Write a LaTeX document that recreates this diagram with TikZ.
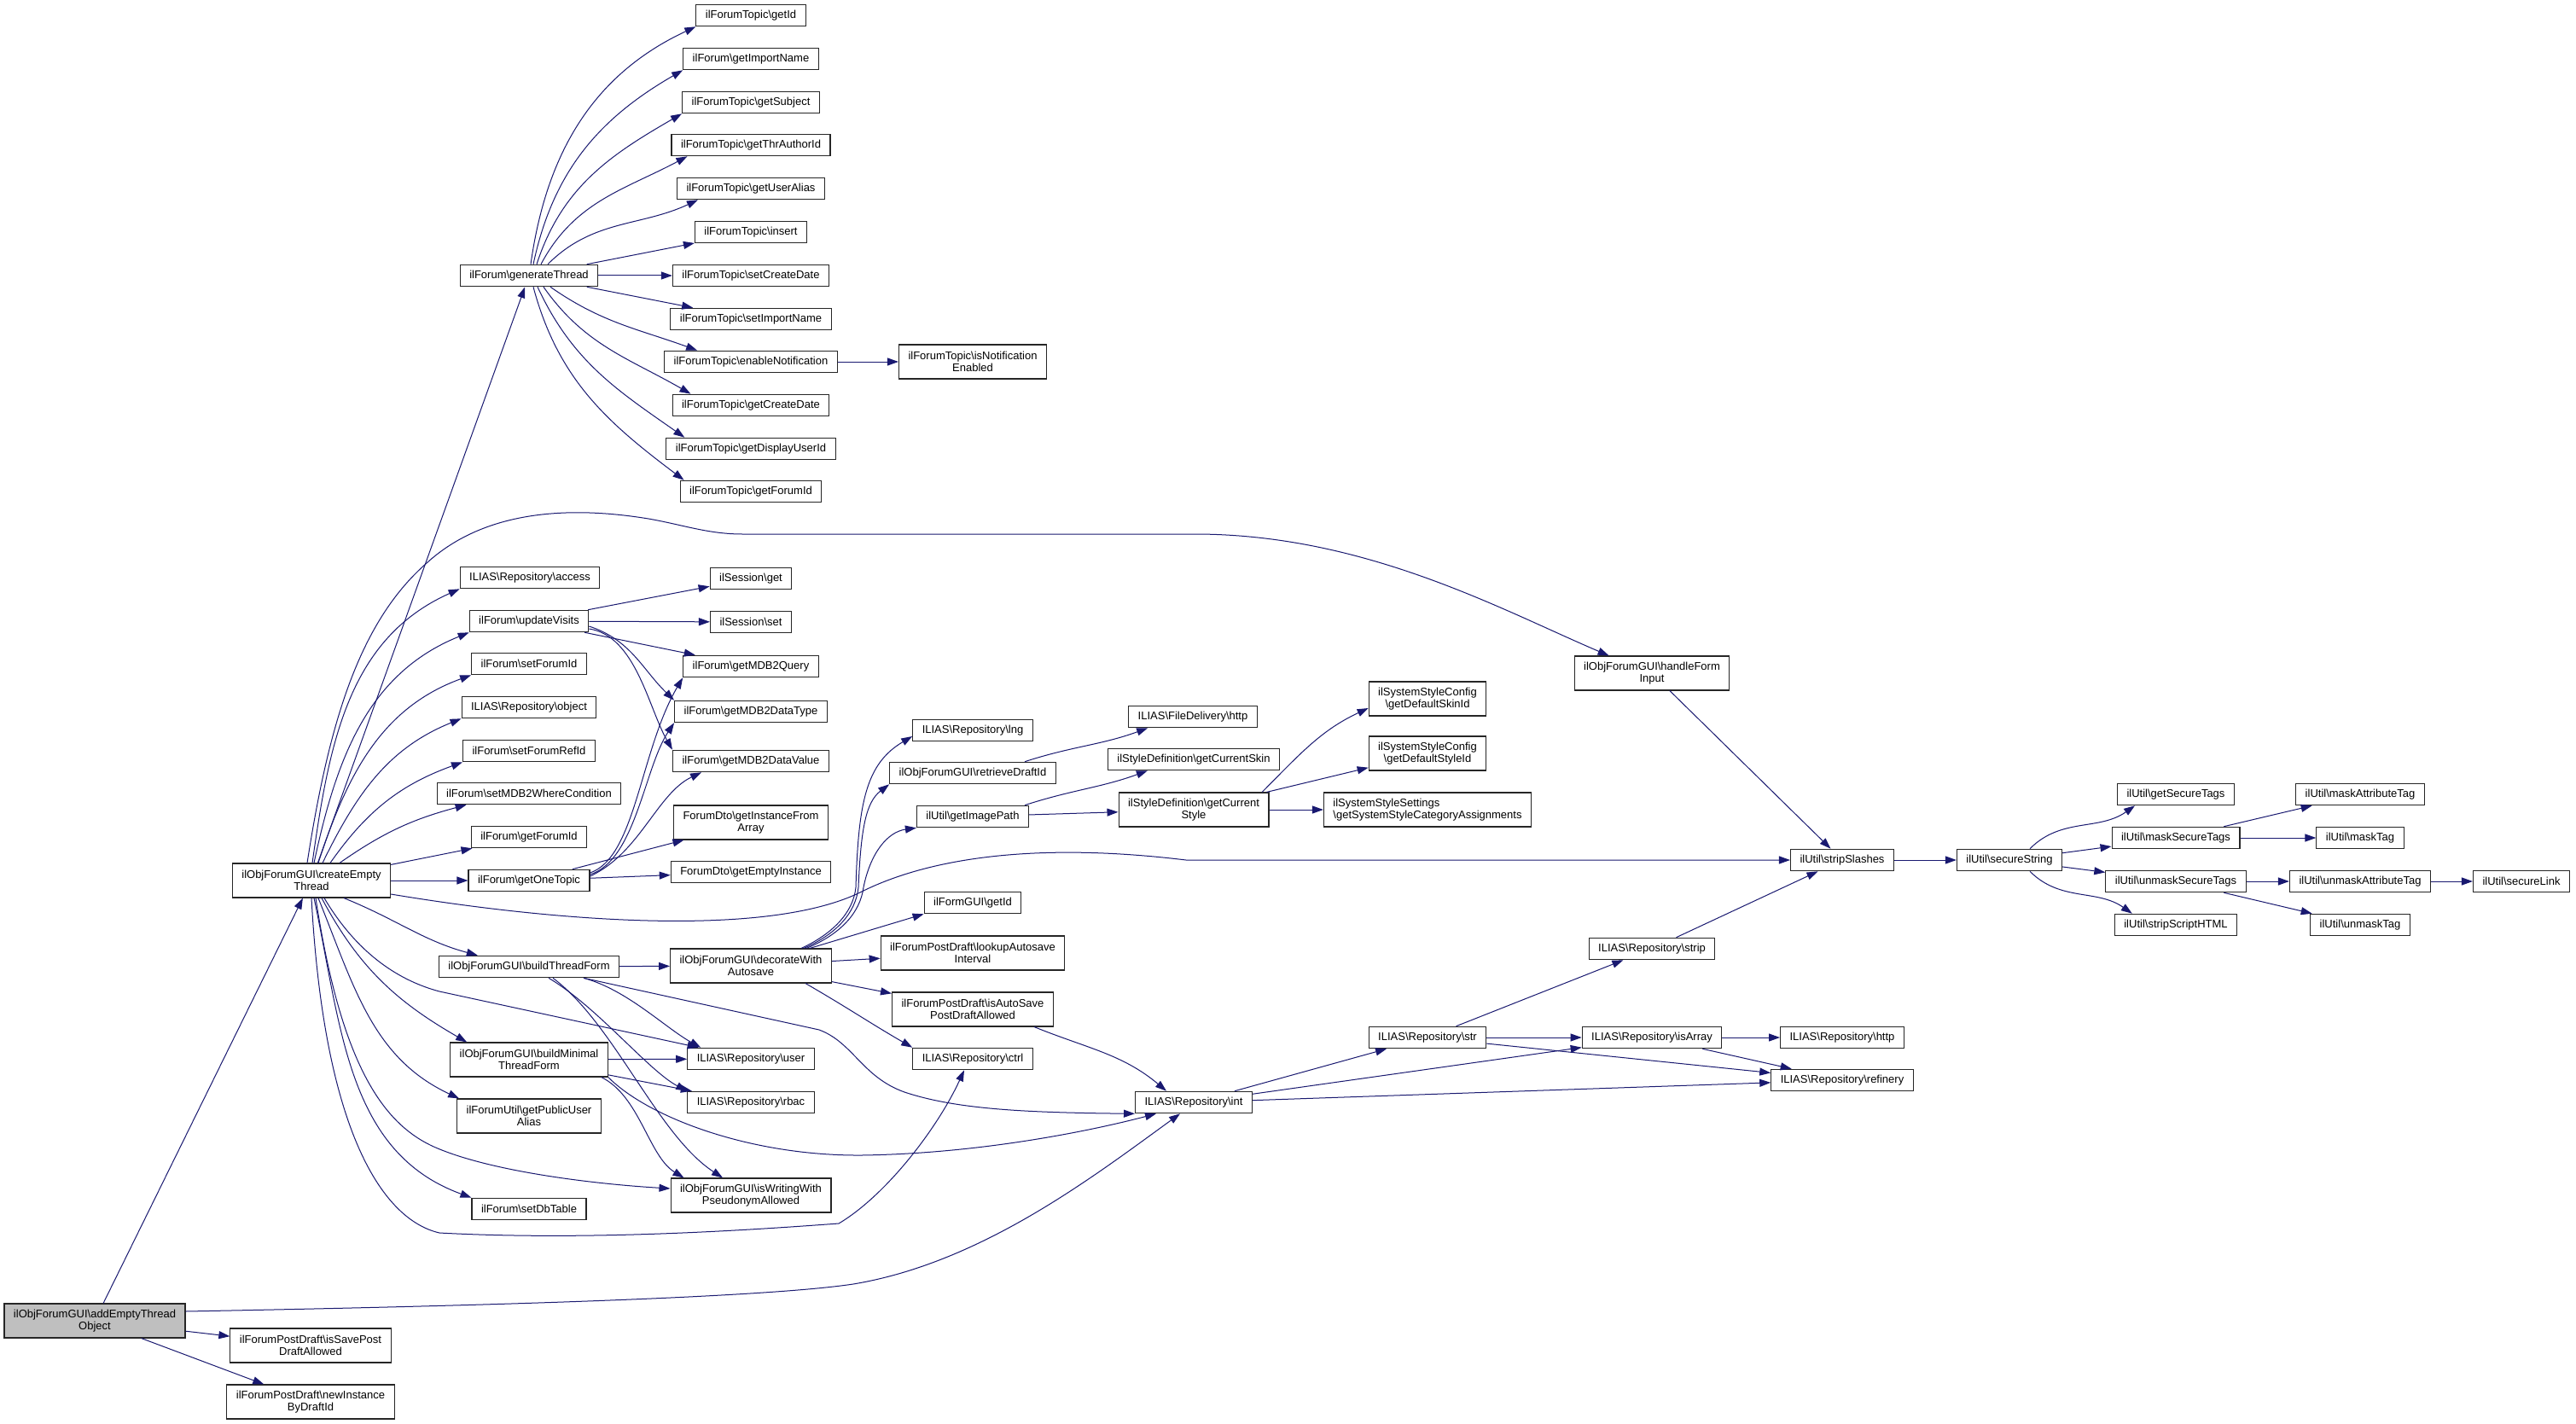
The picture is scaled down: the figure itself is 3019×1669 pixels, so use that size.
\documentclass[tikz,border=0pt]{standalone}
\usepackage{fontspec}
\setmainfont{Liberation Sans}
\usetikzlibrary{arrows.meta}
\definecolor{edgeblue}{HTML}{191970}
\definecolor{rootgray}{HTML}{BFBFBF}
\newcommand{\bsl}{\textbackslash}

\begin{document}
\begin{tikzpicture}[
    x=1pt, y=-1pt,
    func/.style={rectangle, draw=black!85, fill=white, line width=1.1pt, font=\fontsize{13}{14}\selectfont, inner xsep=11pt, inner ysep=3pt, minimum height=25.5pt, align=center},
    func2/.style={func, minimum height=40pt},
    root/.style={func2, fill=rootgray},
    call/.style={draw=edgeblue, line width=1pt, -{Triangle[length=13pt, width=9pt]}}
]
    \useasboundingbox[fill=white] (0,0) rectangle (3019,1669);

    % Root and its callees
    \node[root]  (aeto)  at (111,1548) {ilObjForumGUI\bsl addEmptyThread\\Object};
    \node[func2] (cet)   at (365,1032) {ilObjForumGUI\bsl createEmpty\\Thread};
    \node[func2] (ispda) at (364,1577) {ilForumPostDraft\bsl isSavePost\\DraftAllowed};
    \node[func2] (nibd)  at (364,1643) {ilForumPostDraft\bsl newInstance\\ByDraftId};

    % Second column
    \node[func]  (gt)   at (620,323)  {ilForum\bsl generateThread};
    \node[func]  (acc)  at (621,677)  {ILIAS\bsl Repository\bsl access};
    \node[func]  (uv)   at (620,728)  {ilForum\bsl updateVisits};
    \node[func]  (sfi)  at (620,778)  {ilForum\bsl setForumId};
    \node[func]  (obj)  at (620,829)  {ILIAS\bsl Repository\bsl object};
    \node[func]  (sfri) at (620,880)  {ilForum\bsl setForumRefId};
    \node[func]  (swc)  at (620,930)  {ilForum\bsl setMDB2WhereCondition};
    \node[func]  (gfi)  at (620,981)  {ilForum\bsl getForumId};
    \node[func]  (got)  at (620,1032) {ilForum\bsl getOneTopic};
    \node[func]  (btf)  at (620,1133) {ilObjForumGUI\bsl buildThreadForm};
    \node[func2] (bmtf) at (620,1242) {ilObjForumGUI\bsl buildMinimal\\ThreadForm};
    \node[func2] (gpua) at (620,1308) {ilForumUtil\bsl getPublicUser\\Alias};
    \node[func]  (sdt)  at (620,1417) {ilForum\bsl setDbTable};

    % Third column
    \node[func]  (tgi)  at (880,18)   {ilForumTopic\bsl getId};
    \node[func]  (gin)  at (880,69)   {ilForum\bsl getImportName};
    \node[func]  (tgs)  at (880,120)  {ilForumTopic\bsl getSubject};
    \node[func]  (tga)  at (880,170)  {ilForumTopic\bsl getThrAuthorId};
    \node[func]  (tgu)  at (880,221)  {ilForumTopic\bsl getUserAlias};
    \node[func]  (tins) at (880,272)  {ilForumTopic\bsl insert};
    \node[func]  (tscd) at (880,323)  {ilForumTopic\bsl setCreateDate};
    \node[func]  (tsin) at (880,374)  {ilForumTopic\bsl setImportName};
    \node[func]  (ten)  at (880,424)  {ilForumTopic\bsl enableNotification};
    \node[func]  (tgcd) at (880,475)  {ilForumTopic\bsl getCreateDate};
    \node[func]  (tgdu) at (880,526)  {ilForumTopic\bsl getDisplayUserId};
    \node[func]  (tgfi) at (880,576)  {ilForumTopic\bsl getForumId};
    \node[func]  (sget) at (880,678)  {ilSession\bsl get};
    \node[func]  (sset) at (880,729)  {ilSession\bsl set};
    \node[func]  (mq)   at (880,781)  {ilForum\bsl getMDB2Query};
    \node[func]  (mdt)  at (880,834)  {ilForum\bsl getMDB2DataType};
    \node[func]  (mdv)  at (880,892)  {ilForum\bsl getMDB2DataValue};
    \node[func2] (gifa) at (880,964)  {ForumDto\bsl getInstanceFrom\\Array};
    \node[func]  (gei)  at (880,1022) {ForumDto\bsl getEmptyInstance};
    \node[func2] (dwa)  at (880,1132) {ilObjForumGUI\bsl decorateWith\\Autosave};
    \node[func]  (user) at (880,1241) {ILIAS\bsl Repository\bsl user};
    \node[func]  (rbac) at (880,1292) {ILIAS\bsl Repository\bsl rbac};
    \node[func2] (iwpa) at (880,1401) {ilObjForumGUI\bsl isWritingWith\\PseudonymAllowed};

    % Fourth column
    \node[func2] (tine)   at (1140,424)  {ilForumTopic\bsl isNotification\\Enabled};
    \node[func]  (lng)    at (1140,856)  {ILIAS\bsl Repository\bsl lng};
    \node[func]  (rdi)    at (1140,906)  {ilObjForumGUI\bsl retrieveDraftId};
    \node[func]  (gip)    at (1140,957)  {ilUtil\bsl getImagePath};
    \node[func]  (fgi)    at (1140,1058) {ilFormGUI\bsl getId};
    \node[func2] (lai)    at (1140,1117) {ilForumPostDraft\bsl lookupAutosave\\Interval};
    \node[func2] (iaspda) at (1140,1183) {ilForumPostDraft\bsl isAutoSave\\PostDraftAllowed};
    \node[func]  (ctrl)   at (1140,1241) {ILIAS\bsl Repository\bsl ctrl};

    % Fifth and sixth columns
    \node[func]  (fdh)  at (1398,840)  {ILIAS\bsl FileDelivery\bsl http};
    \node[func]  (gcs)  at (1399,890)  {ilStyleDefinition\bsl getCurrentSkin};
    \node[func2] (gcst) at (1399,949)  {ilStyleDefinition\bsl getCurrent\\Style};
    \node[func]  (int)  at (1399,1292) {ILIAS\bsl Repository\bsl int};
    \node[func2] (gdsk) at (1673,819)  {ilSystemStyleConfig\\\bsl getDefaultSkinId};
    \node[func2] (gdst) at (1673,883)  {ilSystemStyleConfig\\\bsl getDefaultStyleId};
    \node[func2, align=left] (gssca) at (1673,949) {ilSystemStyleSettings\\\bsl getSystemStyleCategoryAssignments};
    \node[func]  (str)  at (1673,1216) {ILIAS\bsl Repository\bsl str};

    % Right part
    \node[func2] (hfi)   at (1936,789)  {ilObjForumGUI\bsl handleForm\\Input};
    \node[func]  (strip) at (1936,1112) {ILIAS\bsl Repository\bsl strip};
    \node[func]  (isarr) at (1936,1216) {ILIAS\bsl Repository\bsl isArray};
    \node[func]  (ss)    at (2159,1008) {ilUtil\bsl stripSlashes};
    \node[func]  (rhttp) at (2159,1216) {ILIAS\bsl Repository\bsl http};
    \node[func]  (ref)   at (2159,1266) {ILIAS\bsl Repository\bsl refinery};
    \node[func]  (sstr)  at (2355,1008) {ilUtil\bsl secureString};
    \node[func]  (gst)   at (2550,931)  {ilUtil\bsl getSecureTags};
    \node[func]  (mst)   at (2550,982)  {ilUtil\bsl maskSecureTags};
    \node[func]  (umst)  at (2550,1033) {ilUtil\bsl unmaskSecureTags};
    \node[func]  (ssh)   at (2550,1084) {ilUtil\bsl stripScriptHTML};
    \node[func]  (mat)   at (2766,931)  {ilUtil\bsl maskAttributeTag};
    \node[func]  (mt)    at (2766,982)  {ilUtil\bsl maskTag};
    \node[func]  (uat)   at (2766,1033) {ilUtil\bsl unmaskAttributeTag};
    \node[func]  (umt)   at (2766,1084) {ilUtil\bsl unmaskTag};
    \node[func]  (sl)    at (2955,1033) {ilUtil\bsl secureLink};

    % Calls of the root
    \draw[call] (aeto) -- (cet);
    \draw[call] (aeto) -- (ispda);
    \draw[call] (aeto) -- (nibd);
    \draw[call] ([yshift=11pt]aeto.east) .. controls (600,1530) and (900,1520) .. (1000,1505) .. controls (1150,1480) and (1280,1380) .. ([xshift=-16pt]int.south);

    % Calls of createEmptyThread
    \draw[call] (cet) -- (gt);
    \draw[call] ([xshift=-5pt]cet.north) .. controls (385,850) and (420,730) .. (500,660) .. controls (560,605) and (650,590) .. (760,608) .. controls (800,615) and (830,626) .. (870,626) -- (1400,626) .. controls (1600,626) and (1760,715) .. ([xshift=41pt]hfi.north west);
    \draw[call] ([xshift=1pt]cet.north) to[out=82,in=204] (acc.south west);
    \draw[call] ([xshift=3pt]cet.north) to[out=78,in=202] (uv.south west);
    \draw[call] ([xshift=8pt]cet.north) to[out=72,in=200] (sfi.south west);
    \draw[call] ([xshift=13pt]cet.north) to[out=64,in=202] (obj.south west);
    \draw[call] ([xshift=22pt]cet.north) to[out=55,in=200] (sfri.south west);
    \draw[call] ([xshift=33pt]cet.north) to[out=35,in=195] ([xshift=35pt]swc.south west);
    \draw[call] (cet) -- (gfi);
    \draw[call] (cet) -- (got);
    \draw[call] ([yshift=-16pt]cet.east) .. controls (650,1080) and (900,1100) .. (1010,1045) .. controls (1080,1010) and (1200,985) .. (1390,1008) -- (ss);
    \draw[call] ([xshift=38pt]cet.south) to[out=-22,in=165] ([xshift=46pt]btf.north west);
    \draw[call] ([xshift=15pt]cet.south) .. controls (420,1120) and (470,1150) .. (515,1162) -- (user);
    \draw[call] ([xshift=12pt]cet.south) to[out=-62,in=150] ([xshift=20pt]bmtf.north west);
    \draw[call] ([xshift=8pt]cet.south) to[out=-68,in=155] ([xshift=3pt]gpua.north west);
    \draw[call] ([xshift=5pt]cet.south) .. controls (400,1250) and (450,1320) .. (513,1346) .. controls (580,1374) and (700,1388) .. ([yshift=8pt]iwpa.west);
    \draw[call] ([xshift=3pt]cet.south) to[out=-78,in=160] (sdt.north west);
    \draw[call] (cet.south) .. controls (380,1330) and (450,1430) .. (515,1445) .. controls (700,1455) and (900,1440) .. (983,1434) .. controls (1040,1400) and (1100,1320) .. ([xshift=-10pt]ctrl.south);

    % Calls of generateThread
    \draw[call] ([xshift=2pt]gt.north) to[out=82,in=205] (tgi.south west);
    \draw[call] ([xshift=5pt]gt.north) to[out=78,in=210] (gin.south west);
    \draw[call] ([xshift=9pt]gt.north) to[out=72,in=210] (tgs.south west);
    \draw[call] ([xshift=14pt]gt.north) to[out=62,in=208] ([xshift=19pt]tga.south west);
    \draw[call] ([xshift=22pt]gt.north) to[out=45,in=205] ([xshift=25pt]tgu.south west);
    \draw[call] (gt) -- (tins);
    \draw[call] (gt) -- (tscd);
    \draw[call] (gt) -- (tsin);
    \draw[call] ([xshift=25pt]gt.south) to[out=-35,in=160] ([xshift=39pt]ten.north west);
    \draw[call] ([xshift=17pt]gt.south) to[out=-55,in=150] ([xshift=22pt]tgcd.north west);
    \draw[call] ([xshift=10pt]gt.south) to[out=-65,in=145] ([xshift=22pt]tgdu.north west);
    \draw[call] ([xshift=5pt]gt.south) to[out=-75,in=143] ([xshift=5pt]tgfi.north west);
    \draw[call] (ten) -- (tine);

    % Calls of updateVisits and getOneTopic
    \draw[call] (uv) -- (sget);
    \draw[call] (uv) -- (sset);
    \draw[call] (uv) -- (mq);
    \draw[call] ([yshift=-6pt]uv.east) to[out=-18,in=136] (mdt.north west);
    \draw[call] ([yshift=-9pt]uv.east) .. controls (745,745) and (760,830) .. (mdv.north west);
    \draw[call] ([yshift=9pt]got.east) .. controls (745,1005) and (750,880) .. (mq.south west);
    \draw[call] ([yshift=7pt]got.east) .. controls (745,1008) and (755,900) .. (mdt.south west);
    \draw[call] ([yshift=5pt]got.east) .. controls (750,1000) and (770,930) .. ([xshift=34pt]mdv.south west);
    \draw[call] (got) -- (gifa);
    \draw[call] (got) -- (gei);

    % Calls of the form builders
    \draw[call] (btf) -- (dwa);
    \draw[call] ([xshift=64pt]btf.south) .. controls (735,1160) and (780,1205) .. ([xshift=16pt]user.north west);
    \draw[call] ([xshift=23pt]btf.south) .. controls (700,1180) and (760,1255) .. (rbac.north west);
    \draw[call] ([xshift=28pt]btf.south) .. controls (720,1200) and (770,1330) .. ([xshift=-33pt]iwpa.north);
    \draw[call] ([xshift=64pt]btf.south) -- (960,1207) .. controls (1000,1222) and (1010,1262) .. (1060,1280) .. controls (1120,1300) and (1200,1304) .. (int.south west);
    \draw[call] (bmtf) -- (user);
    \draw[call] (bmtf) -- (rbac);
    \draw[call] ([xshift=-8pt]bmtf.south east) .. controls (750,1285) and (760,1355) .. ([xshift=16pt]iwpa.north west);
    \draw[call] (bmtf.south east) .. controls (760,1310) and (880,1355) .. (1010,1354) .. controls (1150,1352) and (1280,1325) .. ([xshift=-44pt]int.south);

    % Calls of decorateWithAutosave
    \draw[call] ([xshift=59pt]dwa.north) .. controls (975,1095) and (1000,1070) .. (1003,1040) .. controls (1006,940) and (1015,895) .. ([yshift=-7pt]lng.west);
    \draw[call] ([xshift=62pt]dwa.north) .. controls (980,1095) and (1003,1070) .. (1006,1040) .. controls (1009,970) and (1015,940) .. (rdi.south west);
    \draw[call] ([xshift=65pt]dwa.north) .. controls (985,1095) and (1008,1070) .. (1012,1040) .. controls (1020,1000) and (1040,975) .. (gip.south west);
    \draw[call] ([xshift=69pt]dwa.north) -- (fgi.south west);
    \draw[call] (dwa) -- (lai);
    \draw[call] (dwa) -- (iaspda);
    \draw[call] ([xshift=64pt]dwa.south) to[out=-30,in=150] (ctrl.north west);
    \draw[call] ([xshift=72pt]iaspda.south) to[out=-22,in=140] ([xshift=-32pt]int.north);

    % Style calls
    \draw[call] ([xshift=61pt]rdi.north) to[out=18,in=200] ([xshift=23pt]fdh.south west);
    \draw[call] ([xshift=61pt]gip.north) to[out=18,in=200] ([xshift=47pt]gcs.south west);
    \draw[call] (gip) -- (gcst);
    \draw[call] ([xshift=80pt]gcst.north) to[out=45,in=205] ([yshift=-11pt]gdsk.west);
    \draw[call] (gcst) -- (gdst);
    \draw[call] (gcst) -- (gssca);

    % Repository calls
    \draw[call] (int) -- (str);
    \draw[call] (int) -- (isarr);
    \draw[call] (int) -- (ref);
    \draw[call] (str) -- (strip);
    \draw[call] (str) -- (isarr);
    \draw[call] (str) -- (ref);
    \draw[call] (isarr) -- (rhttp);
    \draw[call] (isarr) -- (ref);

    % String utilities
    \draw[call] (hfi) -- (ss);
    \draw[call] (strip) -- (ss);
    \draw[call] (ss) -- (sstr);
    \draw[call] ([xshift=24pt]sstr.north) to[out=45,in=215] ([xshift=21pt]gst.south west);
    \draw[call] (sstr) -- (mst);
    \draw[call] (sstr) -- (umst);
    \draw[call] ([xshift=24pt]sstr.south) to[out=-45,in=145] ([xshift=21pt]ssh.north west);
    \draw[call] (mst) -- (mat);
    \draw[call] (mst) -- (mt);
    \draw[call] (umst) -- (uat);
    \draw[call] (umst) -- (umt);
    \draw[call] (uat) -- (sl);
\end{tikzpicture}
\end{document}
